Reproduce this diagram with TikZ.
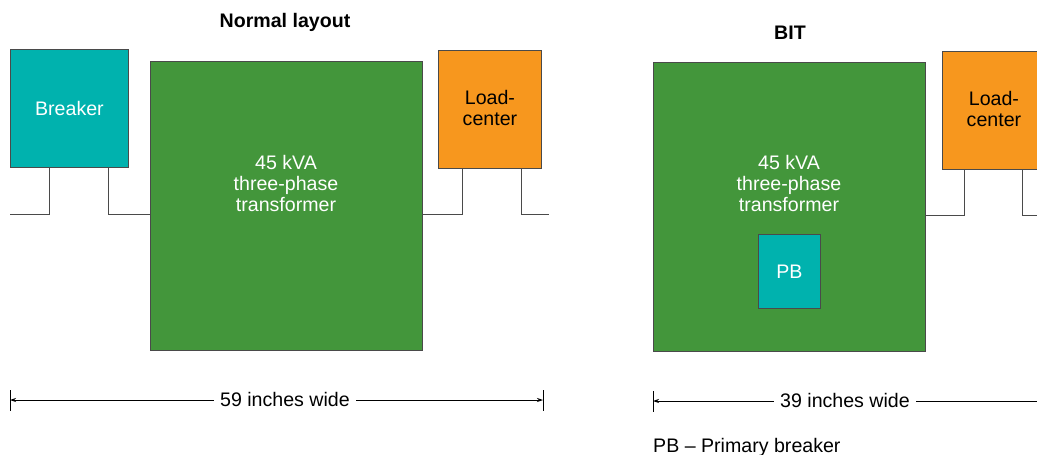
\documentclass[tikz,border=0pt]{standalone}
\usepackage{fontspec}
\setmainfont{Liberation Sans}
\usetikzlibrary{arrows.meta,calc}
\definecolor{teal1}{HTML}{00B2AE}
\definecolor{green1}{HTML}{43963B}
\definecolor{orange1}{HTML}{F7971E}
\definecolor{edge}{HTML}{4A4A4A}
\newcommand{\fs}{\fontsize{19.6}{21}\selectfont}
\tikzset{
  box/.style={draw=edge,line width=0.9pt,inner sep=0pt,anchor=north west},
  brk/.style={box,fill=teal1,text=white,minimum width=118pt,minimum height=118pt},
  trf/.style={box,fill=green1,minimum width=272pt,minimum height=289pt},
  ldc/.style={box,fill=orange1,minimum width=103pt,minimum height=118pt},
  pbbox/.style={box,fill=teal1,text=white,minimum width=62pt,minimum height=74pt},
  lbl/.style={font=\fs,align=center,inner sep=0pt},
  title/.style={font=\fs\bfseries,inner sep=0pt},
  wire/.style={draw=edge,line width=1pt},
  dimline/.style={draw=black,line width=0.8pt,-{Stealth[length=6pt,width=4pt]}},
  tick/.style={draw=black,line width=1pt},
  dimtxt/.style={font=\fs,inner sep=6pt},
}
\begin{document}
\begin{tikzpicture}[x=1pt,y=-1pt]
\clip (0,0) rectangle (1037,455);
\fill[white] (0,0) rectangle (1037,455);

% ---------- Normal layout ----------
\node[title] (t1) at (285,22) {Normal layout};
\node[brk] (b1) at (10,49) {};
\node[lbl,text=white] (b1t) at (b1.center) {Breaker};
\node[trf] (tr1) at (150,61) {};
\node[lbl,text=white] (tr1t) at (286,183) {45 kVA\\three-phase\\transformer};
\node[ldc] (lc1) at (438,50) {};
\node[lbl,text=black] (lc1t) at ($(lc1.center)+(0,-1)$) {Load-\\center};

\coordinate (w1a) at (49,167);
\coordinate (w1b) at (10,214);
\coordinate (w2a) at (108,167);
\coordinate (w2b) at (150,214);
\coordinate (w3a) at (462,168);
\coordinate (w3b) at (422,214);
\coordinate (w4a) at (521,168);
\coordinate (w4b) at (549,214);
\draw[wire] (w1a) |- (w1b);
\draw[wire] (w2a) |- (w2b);
\draw[wire] (w3a) |- (w3b);
\draw[wire] (w4a) |- (w4b);

\coordinate (d1l) at (10,400);
\coordinate (d1r) at (543,400);
\node[dimtxt] (d1t) at (285,399) {59 inches wide};
\draw[dimline] (d1t.west |- d1l) -- (d1l);
\draw[dimline] (d1t.east |- d1r) -- (d1r);
\draw[tick] ($(d1l)+(0,-10)$) -- ($(d1l)+(0,11)$);
\draw[tick] ($(d1r)+(0,-10)$) -- ($(d1r)+(0,11)$);

% ---------- BIT ----------
\node[title] (t2) at (790,33) {BIT};
\node[trf] (tr2) at (653,62) {};
\node[lbl,text=white] (tr2t) at (789,183) {45 kVA\\three-phase\\transformer};
\node[pbbox] (pb) at (758,234) {};
\node[lbl,text=white] (pbt) at (pb.center) {PB};
\node[ldc] (lc2) at (942,51) {};
\node[lbl,text=black] (lc2t) at ($(lc2.center)+(0,-1)$) {Load-\\center};

\coordinate (w5a) at (964,169);
\coordinate (w5b) at (925,215);
\coordinate (w6a) at (1022,169);
\coordinate (w6b) at (1045,215);
\draw[wire] (w5a) |- (w5b);
\draw[wire] (w6a) |- (w6b);

\coordinate (d2l) at (653,401);
\coordinate (d2r) at (1045,401);
\node[dimtxt] (d2t) at (845,400) {39 inches wide};
\draw[dimline] (d2t.west |- d2l) -- (d2l);
\draw[dimline] (d2t.east |- d2r) -- (d2r);
\draw[tick] ($(d2l)+(0,-10)$) -- ($(d2l)+(0,11)$);

\node[font=\fs,anchor=west,inner sep=0pt] (leg) at (653,447) {PB -- Primary breaker};
\end{tikzpicture}
\end{document}
